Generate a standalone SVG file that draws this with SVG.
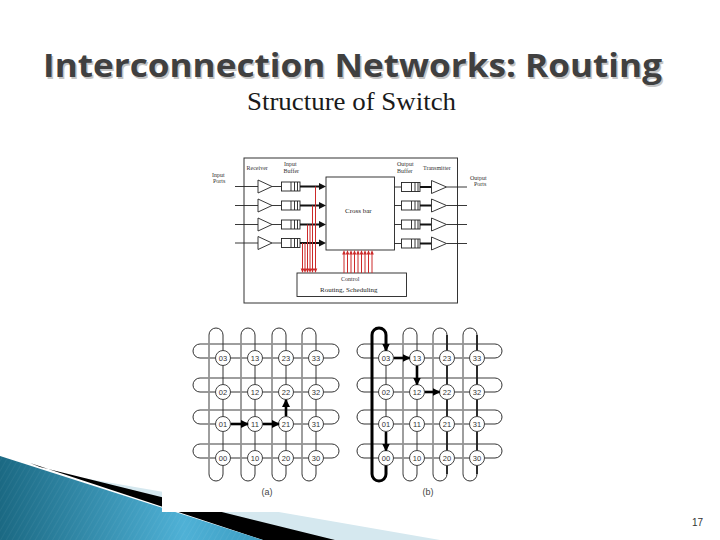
<svg xmlns="http://www.w3.org/2000/svg" width="720" height="540" viewBox="0 0 720 540">
<style>
.ttl{font-family:"Open Sans","Liberation Sans",sans-serif;font-weight:bold;font-size:32px}
.sub{font-family:"Liberation Serif",serif;font-size:26px;fill:#1a1a1a}
.sm{font-family:"Liberation Serif",serif;font-size:6px;fill:#333}
.md{font-family:"Liberation Serif",serif;font-size:7px;fill:#222}
.ln{stroke:#222;stroke-width:0.9;fill:none}
.thk{stroke:#111;stroke-width:2;fill:none}
.box{fill:#fff;stroke:#222;stroke-width:0.9}
.red{stroke:#cc2a2a;stroke-width:1;fill:none}
.redh{fill:#cc2a2a}
.trk{fill:none;stroke:#333;stroke-width:1}
.back{stroke:#a0a0a0;stroke-width:1.6;fill:none}
.nd circle{fill:#fff;stroke:#444;stroke-width:1}
.nd text{font-family:"Liberation Sans",sans-serif;font-size:7.5px;fill:#333;text-anchor:middle}
.arr{stroke:#000;stroke-width:2.6;fill:none;marker-end:url(#ah)}
.cap{font-family:"Liberation Sans",sans-serif;font-size:9px;fill:#444;text-anchor:middle}
</style>
<defs>
<marker id="ah" markerUnits="userSpaceOnUse" markerWidth="8" markerHeight="8" refX="7" refY="4" orient="auto">
<path d="M0,0 L8,4 L0,8 z" fill="#000"/>
</marker>
<linearGradient id="bg" x1="0" y1="0" x2="1" y2="0">
<stop offset="0" stop-color="#1b6983"/>
<stop offset="0.7" stop-color="#4fb1d6"/>
<stop offset="1" stop-color="#3c9dc2"/>
</linearGradient>
<pattern id="st" width="5" height="5" patternUnits="userSpaceOnUse" patternTransform="rotate(30)">
<line x1="0" y1="0" x2="0" y2="5" stroke="#ffffff" stroke-opacity="0.09" stroke-width="1"/>
</pattern>
</defs>
<rect width="720" height="540" fill="#fff"/>

<g id="decoration">
<polygon points="83,478 440,540 300,540" fill="#d5e8ef"/>
<polygon points="40,467 335,540 263,540 30,463" fill="#000"/>
<polygon points="0,456 263,540 0,540" fill="url(#bg)"/>
<polygon points="0,456 263,540 0,540" fill="url(#st)"/>
</g>

<g id="title">
<text class="ttl" x="44.5" y="78.5" fill="#c4c4c4" textLength="619" lengthAdjust="spacingAndGlyphs">Interconnection Networks: Routing</text>
<text class="ttl" x="43" y="77" fill="#404040" textLength="619" lengthAdjust="spacingAndGlyphs">Interconnection Networks: Routing</text>
<text class="sub" x="247" y="110" textLength="209" lengthAdjust="spacingAndGlyphs">Structure of Switch</text>
</g>

<g id="switch">
<rect id="switch-frame" x="244" y="158" width="213.5" height="145" fill="#fff" stroke="#333" stroke-width="1"/>
<g id="labels">
<text class="sm" x="212" y="177">Input</text>
<text class="sm" x="213" y="183">Ports</text>
<text class="sm" x="246.5" y="170">Receiver</text>
<text class="sm" x="284" y="165.5">Input</text>
<text class="sm" x="283.5" y="172.5">Buffer</text>
<text class="sm" x="397" y="165.5">Output</text>
<text class="sm" x="397" y="172.5">Buffer</text>
<text class="sm" x="423" y="170">Transmitter</text>
<text class="sm" x="470" y="180">Output</text>
<text class="sm" x="474" y="186">Ports</text>
</g>
<g id="crossbar">
<rect class="box" x="326" y="177" width="68.5" height="73"/>
<text class="md" x="345" y="213">Cross bar</text>
</g>
<g id="control">
<rect class="box" x="297" y="273" width="109.5" height="23.5"/>
<text class="sm" x="341" y="281">Control</text>
<text class="md" x="320" y="292">Routing, Scheduling</text>
</g>
<g id="input-ports">
<g id="in1"><line class="ln" x1="235" y1="186.5" x2="258" y2="186.5"/><polygon class="box" points="258,180 258,193 272,186.5"/><line class="ln" x1="272" y1="186.5" x2="281.5" y2="186.5"/><rect class="box" x="281.5" y="182" width="18.5" height="9"/><path class="ln" d="M291,182v9M294.5,182v9M297.5,182v9"/><line class="thk" x1="300" y1="186.5" x2="320" y2="186.5"/><polygon points="319,183 326,186.5 319,190" fill="#111"/></g>
<g id="in2"><line class="ln" x1="235" y1="205.5" x2="258" y2="205.5"/><polygon class="box" points="258,199 258,212 272,205.5"/><line class="ln" x1="272" y1="205.5" x2="281.5" y2="205.5"/><rect class="box" x="281.5" y="201" width="18.5" height="9"/><path class="ln" d="M291,201v9M294.5,201v9M297.5,201v9"/><line class="thk" x1="300" y1="205.5" x2="320" y2="205.5"/><polygon points="319,202 326,205.5 319,209" fill="#111"/></g>
<g id="in3"><line class="ln" x1="235" y1="224.5" x2="258" y2="224.5"/><polygon class="box" points="258,218 258,231 272,224.5"/><line class="ln" x1="272" y1="224.5" x2="281.5" y2="224.5"/><rect class="box" x="281.5" y="220" width="18.5" height="9"/><path class="ln" d="M291,220v9M294.5,220v9M297.5,220v9"/><line class="thk" x1="300" y1="224.5" x2="320" y2="224.5"/><polygon points="319,221 326,224.5 319,228" fill="#111"/></g>
<g id="in4"><line class="ln" x1="235" y1="243" x2="258" y2="243"/><polygon class="box" points="258,236.5 258,249.5 272,243"/><line class="ln" x1="272" y1="243" x2="281.5" y2="243"/><rect class="box" x="281.5" y="238.5" width="18.5" height="9"/><path class="ln" d="M291,238.5v9M294.5,238.5v9M297.5,238.5v9"/><line class="thk" x1="300" y1="243" x2="320" y2="243"/><polygon points="319,239.5 326,243 319,246.5" fill="#111"/></g>
</g>
<g id="output-ports">
<g id="out1"><line class="ln" x1="394.5" y1="187" x2="401.5" y2="187" stroke-width="1.4"/><rect class="box" x="401.5" y="182.5" width="18.5" height="9"/><path class="ln" d="M411.5,182.5v9M415,182.5v9M418,182.5v9"/><line class="thk" x1="420" y1="187" x2="431.5" y2="187"/><polygon class="box" points="431.5,180.5 431.5,193.5 446.5,187"/><line class="ln" x1="446.5" y1="187" x2="467" y2="187"/></g>
<g id="out2"><line class="ln" x1="394.5" y1="205.5" x2="401.5" y2="205.5" stroke-width="1.4"/><rect class="box" x="401.5" y="201" width="18.5" height="9"/><path class="ln" d="M411.5,201v9M415,201v9M418,201v9"/><line class="thk" x1="420" y1="205.5" x2="431.5" y2="205.5"/><polygon class="box" points="431.5,199 431.5,212 446.5,205.5"/><line class="ln" x1="446.5" y1="205.5" x2="467" y2="205.5"/></g>
<g id="out3"><line class="ln" x1="394.5" y1="224.5" x2="401.5" y2="224.5" stroke-width="1.4"/><rect class="box" x="401.5" y="220" width="18.5" height="9"/><path class="ln" d="M411.5,220v9M415,220v9M418,220v9"/><line class="thk" x1="420" y1="224.5" x2="431.5" y2="224.5"/><polygon class="box" points="431.5,218 431.5,231 446.5,224.5"/><line class="ln" x1="446.5" y1="224.5" x2="467" y2="224.5"/></g>
<g id="out4"><line class="ln" x1="394.5" y1="243.5" x2="401.5" y2="243.5" stroke-width="1.4"/><rect class="box" x="401.5" y="239" width="18.5" height="9"/><path class="ln" d="M411.5,239v9M415,239v9M418,239v9"/><line class="thk" x1="420" y1="243.5" x2="431.5" y2="243.5"/><polygon class="box" points="431.5,237 431.5,250 446.5,243.5"/><line class="ln" x1="446.5" y1="243.5" x2="467" y2="243.5"/></g>
</g>
<g id="control-lines">
<path class="red" d="M315.5,186.5V270M312.5,205.5V270M310,224.5V270M307.5,224.5V270M305,243V270M302.5,243V270"/>
<path class="redh" d="M313.7,268.5h3.6l-1.8,4.5zM310.7,268.5h3.6l-1.8,4.5zM308.2,268.5h3.6l-1.8,4.5zM305.7,268.5h3.6l-1.8,4.5zM303.2,268.5h3.6l-1.8,4.5zM300.7,268.5h3.6l-1.8,4.5z"/>
<path class="red" d="M344,254V273M347.5,254V273M351,254V273M354.5,254V273M358,254V273M361.5,254V273M365,254V273M368.5,254V273M372,254V273"/>
<path class="redh" d="M342.2,254.5h3.6l-1.8,-4.5zM345.7,254.5h3.6l-1.8,-4.5zM349.2,254.5h3.6l-1.8,-4.5zM352.7,254.5h3.6l-1.8,-4.5zM356.2,254.5h3.6l-1.8,-4.5zM359.7,254.5h3.6l-1.8,-4.5zM363.2,254.5h3.6l-1.8,-4.5zM366.7,254.5h3.6l-1.8,-4.5zM370.2,254.5h3.6l-1.8,-4.5z"/>
</g>
</g>

<rect id="torus-bg" x="162" y="312" width="360" height="200" fill="#fff"/>

<g id="connectors">
<g id="torus-a-links">
<rect class="trk" x="193" y="344" width="146" height="14" rx="7"/>
<rect class="trk" x="193" y="378" width="146" height="14" rx="7"/>
<rect class="trk" x="193" y="410" width="146" height="14" rx="7"/>
<rect class="trk" x="193" y="444" width="146" height="14" rx="7"/>
<path class="back" d="M200,344H332M200,378H332M200,410H332M200,444H332"/>
<rect class="trk" x="209" y="328" width="14" height="153" rx="7"/>
<rect class="trk" x="241" y="328" width="14" height="153" rx="7"/>
<rect class="trk" x="272" y="328" width="14" height="153" rx="7"/>
<rect class="trk" x="302" y="328" width="14" height="153" rx="7"/>
<path class="back" d="M209,335V474M241,335V474M272,335V474M302,335V474"/>
</g>
<g id="torus-b-links">
<rect class="trk" x="357" y="344" width="145" height="14" rx="7"/>
<rect class="trk" x="357" y="378" width="145" height="14" rx="7"/>
<rect class="trk" x="357" y="410" width="145" height="14" rx="7"/>
<rect class="trk" x="357" y="444" width="145" height="14" rx="7"/>
<path class="back" d="M364,344H495M364,378H495M364,410H495M364,444H495"/>
<rect class="trk" x="372" y="328" width="14" height="153" rx="7"/>
<rect class="trk" x="403" y="328" width="14" height="153" rx="7"/>
<rect class="trk" x="433" y="328" width="14" height="153" rx="7"/>
<rect class="trk" x="463" y="328" width="14" height="153" rx="7"/>
<path class="back" d="M403,335V474M433,335V474M463,335V474"/>
<path d="M447,335V474M477,335V474" stroke="#222" stroke-width="1.8" fill="none"/>
</g>
</g>

<g id="torus-a-nodes">
<g id="a03" class="nd"><circle cx="223" cy="358" r="7.5"/><text x="223" y="360.6">03</text></g>
<g id="a13" class="nd"><circle cx="255" cy="358" r="7.5"/><text x="255" y="360.6">13</text></g>
<g id="a23" class="nd"><circle cx="286" cy="358" r="7.5"/><text x="286" y="360.6">23</text></g>
<g id="a33" class="nd"><circle cx="316" cy="358" r="7.5"/><text x="316" y="360.6">33</text></g>
<g id="a02" class="nd"><circle cx="223" cy="392" r="7.5"/><text x="223" y="394.6">02</text></g>
<g id="a12" class="nd"><circle cx="255" cy="392" r="7.5"/><text x="255" y="394.6">12</text></g>
<g id="a22" class="nd"><circle cx="286" cy="392" r="7.5"/><text x="286" y="394.6">22</text></g>
<g id="a32" class="nd"><circle cx="316" cy="392" r="7.5"/><text x="316" y="394.6">32</text></g>
<g id="a01" class="nd"><circle cx="223" cy="424" r="7.5"/><text x="223" y="426.6">01</text></g>
<g id="a11" class="nd"><circle cx="255" cy="424" r="7.5"/><text x="255" y="426.6">11</text></g>
<g id="a21" class="nd"><circle cx="286" cy="424" r="7.5"/><text x="286" y="426.6">21</text></g>
<g id="a31" class="nd"><circle cx="316" cy="424" r="7.5"/><text x="316" y="426.6">31</text></g>
<g id="a00" class="nd"><circle cx="223" cy="458" r="7.5"/><text x="223" y="460.6">00</text></g>
<g id="a10" class="nd"><circle cx="255" cy="458" r="7.5"/><text x="255" y="460.6">10</text></g>
<g id="a20" class="nd"><circle cx="286" cy="458" r="7.5"/><text x="286" y="460.6">20</text></g>
<g id="a30" class="nd"><circle cx="316" cy="458" r="7.5"/><text x="316" y="460.6">30</text></g>
</g>

<g id="torus-b-nodes">
<g id="b03" class="nd"><circle cx="386" cy="358" r="7.5"/><text x="386" y="360.6">03</text></g>
<g id="b13" class="nd"><circle cx="417" cy="358" r="7.5"/><text x="417" y="360.6">13</text></g>
<g id="b23" class="nd"><circle cx="447" cy="358" r="7.5"/><text x="447" y="360.6">23</text></g>
<g id="b33" class="nd"><circle cx="477" cy="358" r="7.5"/><text x="477" y="360.6">33</text></g>
<g id="b02" class="nd"><circle cx="386" cy="392" r="7.5"/><text x="386" y="394.6">02</text></g>
<g id="b12" class="nd"><circle cx="417" cy="392" r="7.5"/><text x="417" y="394.6">12</text></g>
<g id="b22" class="nd"><circle cx="447" cy="392" r="7.5"/><text x="447" y="394.6">22</text></g>
<g id="b32" class="nd"><circle cx="477" cy="392" r="7.5"/><text x="477" y="394.6">32</text></g>
<g id="b01" class="nd"><circle cx="386" cy="424" r="7.5"/><text x="386" y="426.6">01</text></g>
<g id="b11" class="nd"><circle cx="417" cy="424" r="7.5"/><text x="417" y="426.6">11</text></g>
<g id="b21" class="nd"><circle cx="447" cy="424" r="7.5"/><text x="447" y="426.6">21</text></g>
<g id="b31" class="nd"><circle cx="477" cy="424" r="7.5"/><text x="477" y="426.6">31</text></g>
<g id="b00" class="nd"><circle cx="386" cy="458" r="7.5"/><text x="386" y="460.6">00</text></g>
<g id="b10" class="nd"><circle cx="417" cy="458" r="7.5"/><text x="417" y="460.6">10</text></g>
<g id="b20" class="nd"><circle cx="447" cy="458" r="7.5"/><text x="447" y="460.6">20</text></g>
<g id="b30" class="nd"><circle cx="477" cy="458" r="7.5"/><text x="477" y="460.6">30</text></g>
</g>

<g id="routes">
<line class="arr" x1="231" y1="424" x2="248" y2="424"/>
<line class="arr" x1="263" y1="424" x2="279" y2="424"/>
<line class="arr" x1="286" y1="416" x2="286" y2="400"/>
<path d="M386,465.5V474A7,7 0 0 1 372,474V335A7,7 0 0 1 386,335V350.5" stroke="#000" stroke-width="3" fill="none" marker-end="url(#ah)"/>
<line class="arr" x1="394" y1="358" x2="409.5" y2="358"/>
<line class="arr" x1="417" y1="366" x2="417" y2="384.5"/>
<line class="arr" x1="425" y1="392" x2="439.5" y2="392"/>
<line class="arr" x1="386" y1="432" x2="386" y2="450.5"/>
</g>

<text class="cap" x="267" y="495">(a)</text>
<text class="cap" x="428" y="495">(b)</text>
<text x="692" y="526" font-family="Liberation Sans, sans-serif" font-size="10" fill="#333">17</text>
</svg>
